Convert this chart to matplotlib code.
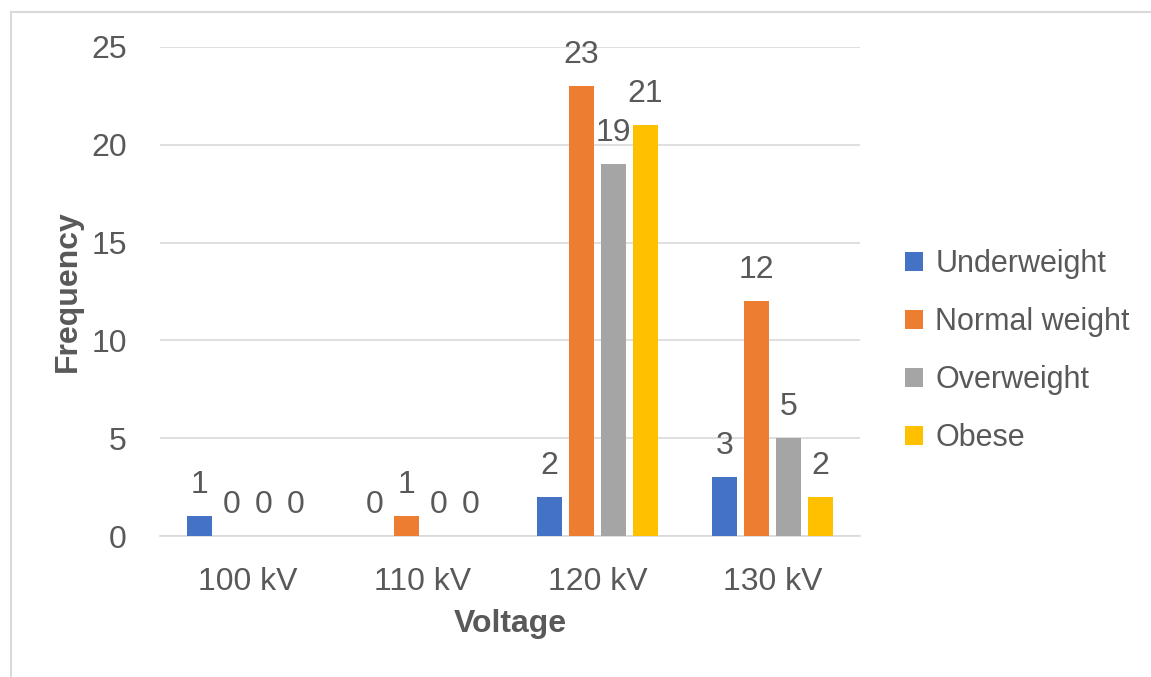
import numpy as np
import matplotlib.pyplot as plt

plt.rcParams['font.family'] = ['Liberation Sans', 'DejaVu Sans']

categories = ['100 kV', '110 kV', '120 kV', '130 kV']
series_names = ['Underweight', 'Normal weight', 'Overweight', 'Obese']
underweight = [1, 0, 2, 3]
normal = [0, 1, 23, 12]
overweight = [0, 0, 19, 5]
obese = [0, 0, 21, 2]
colors = ['#4472C4', '#ED7D31', '#A5A5A5', '#FFC000']

text_color = '#595959'

fig = plt.figure(figsize=(11.51, 6.77), dpi=100)
ax = fig.add_axes([160 / 1151, 1 - 536 / 677, 700 / 1151, 489 / 677])

x = np.arange(len(categories))
step = 0.183
width = 0.143
for i, (vals, name, c) in enumerate(zip([underweight, normal, overweight, obese], series_names, colors)):
    pos = x + (i - 1.5) * step
    ax.bar(pos, vals, width, color=c, label=name, zorder=3)
    for p, v in zip(pos, vals):
        ax.annotate(str(v), (p, v), xytext=(0, 11.5), textcoords='offset points',
                    ha='center', va='bottom', fontsize=23, color=text_color)

ax.set_xlim(-0.5, 3.5)
ax.set_ylim(0, 25)
ax.set_yticks([0, 5, 10, 15, 20, 25])
ax.set_xticks(x)
ax.set_xticklabels(categories)
ax.tick_params(axis='both', length=0, labelsize=23, colors=text_color)
ax.tick_params(axis='x', pad=22)
ax.tick_params(axis='y', pad=24)
ax.grid(axis='y', color='#D9D9D9', linewidth=1.2, zorder=0)
for s in ['top', 'right', 'left']:
    ax.spines[s].set_visible(False)
ax.spines['bottom'].set_color('#D9D9D9')
ax.spines['bottom'].set_linewidth(1.2)

ax.set_ylabel('Frequency', fontsize=23, fontweight='bold', color=text_color, labelpad=6)
ax.set_xlabel('Voltage', fontsize=23, fontweight='bold', color=text_color, labelpad=9)

leg = ax.legend(loc='center left', bbox_to_anchor=(1.064, 0.378), frameon=False,
                fontsize=22, handlelength=0.6, handleheight=0.6, handletextpad=0.4,
                labelspacing=0.92, labelcolor=text_color, borderaxespad=0, borderpad=0)

# outer chart frame (only left and top edges visible)
fig.add_artist(plt.Line2D([11 / 1151, 11 / 1151], [0, 1 - 12 / 677], color='#D9D9D9', linewidth=1.5))
fig.add_artist(plt.Line2D([11 / 1151, 1], [1 - 12 / 677, 1 - 12 / 677], color='#D9D9D9', linewidth=1.5))

fig.savefig('out.png', dpi=100)
